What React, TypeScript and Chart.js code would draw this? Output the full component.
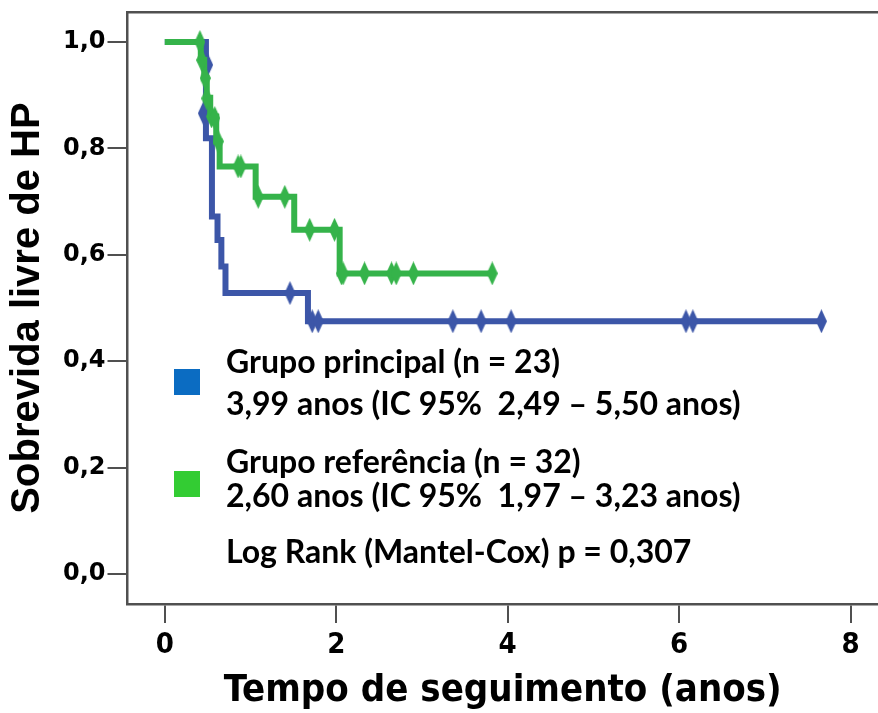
import React, { useEffect, useRef } from 'react';
import { Chart, registerables } from 'chart.js';

Chart.register(...registerables);

// ---- data ----
const xTickValues = [0, 2, 4, 6, 8];
const yTickValues = [0, 0.2, 0.4, 0.6, 0.8, 1.0];

const principalTimes = [0, 0.48, 0.55, 0.615, 0.66, 0.708, 1.67, 7.66];
const principalSurv = [1.0, 0.819, 0.672, 0.628, 0.578, 0.528, 0.475, 0.475];
const principalCensorTimes = [0.45, 0.5, 1.46, 1.72, 1.79, 3.36, 3.69, 4.04, 6.08, 6.16, 7.66];
const principalCensorSurv = [0.866, 0.957, 0.528, 0.475, 0.475, 0.475, 0.475, 0.475, 0.475, 0.475, 0.475];

const referenceTimes = [0, 0.42, 0.46, 0.49, 0.53, 0.6, 0.64, 1.06, 1.51, 2.04, 3.82];
const referenceSurv = [1.0, 0.966, 0.932, 0.895, 0.86, 0.813, 0.766, 0.709, 0.647, 0.565, 0.565];
const referenceCensorTimes = [0.41, 0.43, 0.47, 0.49, 0.545, 0.583, 0.622, 0.855, 0.887, 1.09, 1.4, 1.69, 1.98, 2.06, 2.08, 2.33, 2.645, 2.7, 2.9, 3.82];
const referenceCensorSurv = [1.0, 0.966, 0.932, 0.894, 0.86, 0.857, 0.813, 0.766, 0.766, 0.709, 0.709, 0.647, 0.647, 0.565, 0.565, 0.565, 0.565, 0.565, 0.565, 0.565];

const legendPrincipal = ['Grupo principal (n = 23)', '3,99 anos (IC 95%  2,49 \u2013 5,50 anos)'];
const legendReference = ['Grupo refer\u00eancia (n = 32)', '2,60 anos (IC 95%  1,97 \u2013 3,23 anos)'];
const logRankText = 'Log Rank (Mantel-Cox) p = 0,307';

const xTitle = 'Tempo de seguimento (anos)';
const yTitle = 'Sobrevida livre de HP';

// ---- styles ----
const BLUE_LINE = '#3C56A8';
const GREEN_LINE = '#35B34A';
const BLUE_BOX = '#0B6CC2';
const GREEN_BOX = '#33CC33';
const AXIS = '#505050';
const NARROW = "'Liberation Sans Narrow', 'DejaVu Sans Condensed', 'Liberation Sans', sans-serif";

function makeDiamond(color: string, w = 10, h = 22): HTMLCanvasElement {
  const c = document.createElement('canvas');
  c.width = w;
  c.height = h;
  const g = c.getContext('2d')!;
  g.fillStyle = color;
  g.beginPath();
  g.moveTo(w / 2, 0);
  g.lineTo(w, h / 2);
  g.lineTo(w / 2, h);
  g.lineTo(0, h / 2);
  g.closePath();
  g.fill();
  return c;
}

const zip = (xs: number[], ys: number[]) => xs.map((x, i) => ({ x, y: ys[i] }));

const annotationPlugin = {
  id: 'kmAnnotations',
  afterDraw(chart: any) {
    const ctx = chart.ctx;
    ctx.save();
    ctx.fillStyle = '#000';
    ctx.font = "bold 32px Lato, 'Open Sans', sans-serif";
    ctx.textBaseline = 'alphabetic';
    ctx.textAlign = 'left';
    const tx = 226;
    ctx.fillText(legendPrincipal[0], tx, 373);
    ctx.fillText(legendPrincipal[1], tx, 415);
    ctx.fillText(legendReference[0], tx, 473);
    ctx.fillText(legendReference[1], tx, 507);
    ctx.fillText(logRankText, tx, 563);
    ctx.fillStyle = BLUE_BOX;
    ctx.fillRect(174, 369, 26, 26);
    ctx.fillStyle = GREEN_BOX;
    ctx.fillRect(174, 471, 26, 26);
    ctx.restore();
  },
};

const zeroPad = (s: any) => {
  s.paddingTop = 0;
  s.paddingBottom = 0;
  s.paddingLeft = 0;
  s.paddingRight = 0;
};

export default function App() {
  const ref = useRef<HTMLCanvasElement | null>(null);

  useEffect(() => {
    if (!ref.current) return;
    const blueDiamond = makeDiamond(BLUE_LINE, 11, 24);
    const greenDiamond = makeDiamond(GREEN_LINE, 11, 24);
    const chart = new Chart(ref.current, {
      type: 'line',
      data: {
        datasets: [
          {
            label: 'censor-ref',
            data: zip(referenceCensorTimes, referenceCensorSurv),
            showLine: false,
            pointStyle: greenDiamond as any,
            pointRadius: 5,
            order: 0,
          },
          {
            label: 'Grupo referência',
            data: zip(referenceTimes, referenceSurv),
            borderColor: GREEN_LINE,
            borderWidth: 6,
            stepped: true,
            pointRadius: 0,
            fill: false,
            borderJoinStyle: 'miter',
            borderCapStyle: 'butt',
            order: 1,
          },
          {
            label: 'censor-princ',
            data: zip(principalCensorTimes, principalCensorSurv),
            showLine: false,
            pointStyle: blueDiamond as any,
            pointRadius: 5,
            order: 2,
          },
          {
            label: 'Grupo principal',
            data: zip(principalTimes, principalSurv),
            borderColor: BLUE_LINE,
            borderWidth: 6,
            stepped: true,
            pointRadius: 0,
            fill: false,
            borderJoinStyle: 'miter',
            borderCapStyle: 'butt',
            order: 3,
          },
        ],
      },
      options: {
        animation: false,
        responsive: false,
        devicePixelRatio: 1,
        layout: { autoPadding: false, padding: { top: 12, right: 0, left: 0, bottom: 0 } },
        plugins: { legend: { display: false }, tooltip: { enabled: false } },
        scales: {
          x: {
            type: 'linear',
            position: 'bottom',
            min: -0.435,
            max: 8.32,
            afterBuildTicks: (s: any) => {
              s.ticks = xTickValues.map((v) => ({ value: v }));
            },
            afterFit: (s: any) => {
              s.height = 109;
              zeroPad(s);
            },
            grid: { drawOnChartArea: false, drawTicks: true, tickLength: 19, color: AXIS, lineWidth: 2 },
            border: { display: true, color: AXIS, width: 2.5 },
            ticks: {
              color: '#000',
              padding: 5,
              maxRotation: 0,
              font: { family: NARROW, weight: 'bold', size: 29 },
              callback: (v: any) => String(v),
            },
            title: {
              display: true,
              text: xTitle,
              color: '#000',
              font: { family: NARROW, weight: 'bold', size: 38, lineHeight: 1 },
              padding: { top: 0, bottom: 3 },
            },
          },
          xTop: {
            type: 'linear',
            position: 'top',
            min: -0.435,
            max: 8.32,
            ticks: { display: false },
            grid: { display: true, drawOnChartArea: false, drawTicks: false },
            border: { display: true, color: AXIS, width: 2.5 },
            afterFit: (s: any) => {
              s.height = 0;
              zeroPad(s);
            },
          },
          y: {
            type: 'linear',
            min: -0.0564,
            max: 1.0564,
            afterBuildTicks: (s: any) => {
              s.ticks = yTickValues.map((v) => ({ value: v }));
            },
            afterFit: (s: any) => {
              s.width = 127.5;
              zeroPad(s);
            },
            grid: { drawOnChartArea: false, drawTicks: true, tickLength: 20, color: AXIS, lineWidth: 2 },
            border: { display: true, color: AXIS, width: 2.5 },
            ticks: {
              color: '#000',
              padding: 2,
              font: { family: "'DejaVu Sans', sans-serif", weight: 'bold', size: 24 },
              callback: (v: any) => Number(v).toFixed(1).replace('.', ','),
            },
            title: {
              display: true,
              text: yTitle,
              color: '#000',
              font: { family: "'Liberation Sans', Arial, sans-serif", weight: 'bold', size: 40, lineHeight: 1 },
              padding: { top: 8, bottom: 0 },
            },
          },
        },
      },
      plugins: [annotationPlugin],
    } as any);
    return () => chart.destroy();
  }, []);

  return (
    <div style={{ position: 'absolute', left: 0, top: 0, width: 878, height: 713, overflow: 'hidden', background: '#fff' }}>
      <canvas ref={ref} width={878} height={713} style={{ display: 'block' }} />
    </div>
  );
}
